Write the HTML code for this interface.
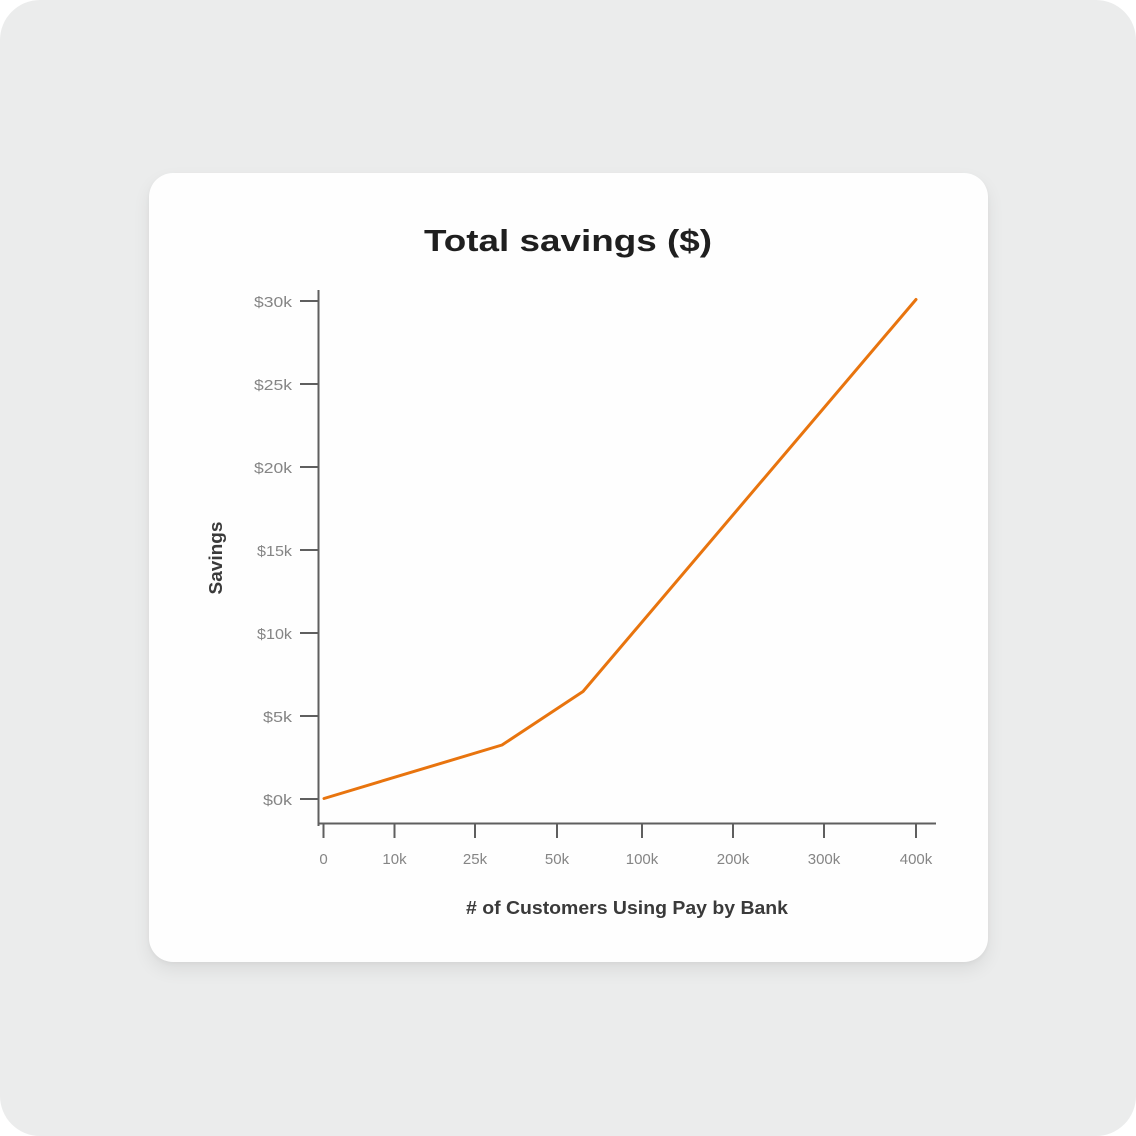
<!DOCTYPE html>
<html>
<head>
<meta charset="utf-8">
<style>
  html, body { margin:0; padding:0; background:#ffffff; }
  body { width:1136px; height:1136px; position:relative; overflow:hidden; }
  .bg { position:absolute; left:0; top:0; width:1136px; height:1136px; background:#ebecec; border-radius:40px; }
  .card { position:absolute; left:149px; top:173px; width:839px; height:789px; background:#fefefe; border-radius:24px;
          box-shadow: 0 8px 18px rgba(0,0,0,0.07), 0 2px 4px rgba(0,0,0,0.04); }
  svg { position:absolute; left:0; top:0; }
  text { font-family:"Liberation Sans", sans-serif; }
</style>
</head>
<body>
<div class="bg"></div>
<div class="card"></div>
<svg width="1136" height="1136" viewBox="0 0 1136 1136">
  <!-- Title -->
  <text x="424" y="251" font-size="31" font-weight="bold" fill="#1f1f1f" textLength="288" lengthAdjust="spacingAndGlyphs">Total savings ($)</text>

  <!-- Axes -->
  <g stroke="#5f5f5f" stroke-width="2" fill="none">
    <line x1="318.5" y1="290" x2="318.5" y2="826"/>
    <line x1="318" y1="823.5" x2="936" y2="823.5"/>
    <!-- y ticks -->
    <line x1="300" y1="301" x2="318" y2="301"/>
    <line x1="300" y1="384" x2="318" y2="384"/>
    <line x1="300" y1="467" x2="318" y2="467"/>
    <line x1="300" y1="550" x2="318" y2="550"/>
    <line x1="300" y1="633" x2="318" y2="633"/>
    <line x1="300" y1="716" x2="318" y2="716"/>
    <line x1="300" y1="799" x2="318" y2="799"/>
    <!-- x ticks -->
    <line x1="323.5" y1="823" x2="323.5" y2="838"/>
    <line x1="394.5" y1="823" x2="394.5" y2="838"/>
    <line x1="475" y1="823" x2="475" y2="838"/>
    <line x1="557" y1="823" x2="557" y2="838"/>
    <line x1="642" y1="823" x2="642" y2="838"/>
    <line x1="733" y1="823" x2="733" y2="838"/>
    <line x1="824" y1="823" x2="824" y2="838"/>
    <line x1="916" y1="823" x2="916" y2="838"/>
  </g>

  <!-- Y tick labels -->
  <g font-size="15" fill="#858585">
    <text x="254" y="307" textLength="38" lengthAdjust="spacingAndGlyphs">$30k</text>
    <text x="254" y="390" textLength="38" lengthAdjust="spacingAndGlyphs">$25k</text>
    <text x="254" y="473" textLength="38" lengthAdjust="spacingAndGlyphs">$20k</text>
    <text x="257" y="556" textLength="35" lengthAdjust="spacingAndGlyphs">$15k</text>
    <text x="257" y="639" textLength="35" lengthAdjust="spacingAndGlyphs">$10k</text>
    <text x="263" y="722" textLength="29" lengthAdjust="spacingAndGlyphs">$5k</text>
    <text x="263" y="805" textLength="29" lengthAdjust="spacingAndGlyphs">$0k</text>
  </g>

  <!-- X tick labels -->
  <g font-size="15" fill="#858585" text-anchor="middle">
    <text x="323.5" y="864">0</text>
    <text x="394.5" y="864">10k</text>
    <text x="475" y="864">25k</text>
    <text x="557" y="864">50k</text>
    <text x="642" y="864">100k</text>
    <text x="733" y="864">200k</text>
    <text x="824" y="864">300k</text>
    <text x="916" y="864">400k</text>
  </g>

  <!-- Axis titles -->
  <text x="466" y="914" font-size="18" font-weight="bold" fill="#3a3a3a" textLength="322" lengthAdjust="spacingAndGlyphs">#  of Customers Using Pay by Bank</text>
  <text transform="translate(222,558) rotate(-90)" x="0" y="0" font-size="18" font-weight="bold" fill="#3a3a3a" text-anchor="middle" textLength="73" lengthAdjust="spacingAndGlyphs">Savings</text>

  <!-- Series -->
  <polyline points="324,798.5 502,745 583,691.5 916,299.5" fill="none" stroke="#e8740e" stroke-width="3" stroke-linejoin="round" stroke-linecap="round"/>
</svg>
</body>
</html>
